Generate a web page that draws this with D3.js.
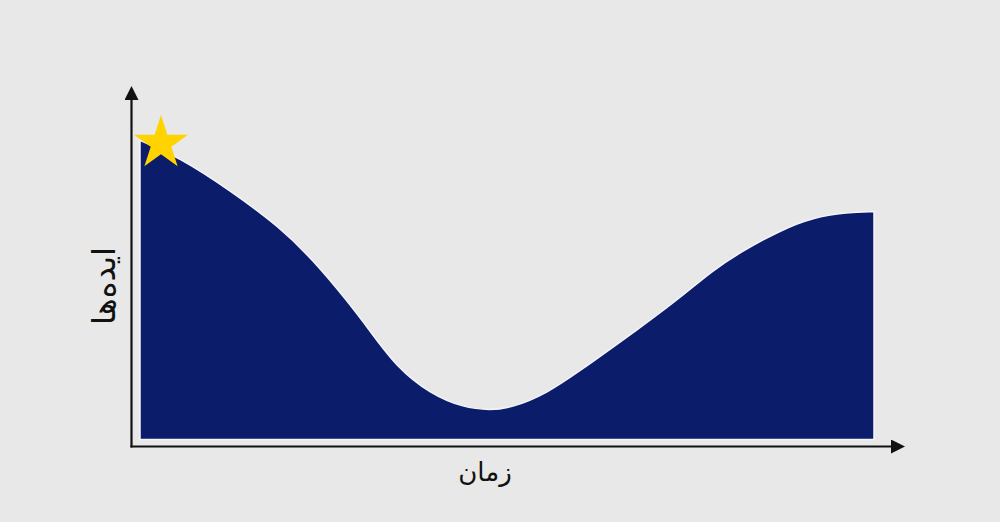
<!DOCTYPE html>
<html>
<head>
<meta charset="utf-8">
<script src="https://cdn.jsdelivr.net/npm/d3@7"></script>
<style>
  html, body { margin: 0; padding: 0; background: #e8e8e8; }
  svg { display: block; }
</style>
</head>
<body>
<svg id="chart"></svg>
<script>
// time (0-100) and ideas (0-100)
const time = [0, 5.4, 12.3, 19.1, 23.6, 28.2, 31.3, 35, 39.5, 44, 47.7, 50.8, 55.4, 60, 64.4, 69.1, 73.6, 78, 81.7, 87.2, 91.7, 96.3, 100];
const ideas = [99.7, 94, 83, 70.7, 59.7, 46.3, 36.3, 24, 15.3, 10.7, 9.7, 10.7, 15.3, 23, 30.7, 39, 47.3, 56.3, 62.3, 69.7, 74, 75.7, 76];
const xLabel = "زمان";
const yLabel = "ایده‌ها";

const width = 1000;
const height = 522;

const svg = d3.select("#chart")
  .attr("width", width)
  .attr("height", height);

const x = d3.scaleLinear([0, 100], [140, 874]);
const y = d3.scaleLinear([0, 100], [439.5, 139.5]);

const rows = time.map((t, i) => ({ t: t, v: ideas[i] }));

// arrow heads for the axes
const defs = svg.append("defs");
defs.append("marker")
  .attr("id", "arrow")
  .attr("viewBox", "0 0 10 10")
  .attr("refX", 0)
  .attr("refY", 5)
  .attr("markerWidth", 14)
  .attr("markerHeight", 14)
  .attr("markerUnits", "userSpaceOnUse")
  .attr("orient", "auto")
  .append("path")
  .attr("d", "M0,0 L10,5 L0,10 Z")
  .attr("fill", "#111");

const area = d3.area()
  .x((d) => x(d.t))
  .y0(y(0))
  .y1((d) => y(d.v))
  .curve(d3.curveBasis);

svg.append("path")
  .datum(rows)
  .attr("d", area)
  .attr("fill", "#0b1d6a")
  .attr("stroke", "#f4f4fa")
  .attr("stroke-width", 1.5);

// axes
const x0 = 131.5;
const y0 = 446.5;

svg.append("line")
  .attr("x1", x0 - 1)
  .attr("y1", y0)
  .attr("x2", 891)
  .attr("y2", y0)
  .attr("stroke", "#111")
  .attr("stroke-width", 2.2)
  .attr("marker-end", "url(#arrow)");

svg.append("line")
  .attr("x1", x0)
  .attr("y1", y0 + 1)
  .attr("x2", x0)
  .attr("y2", 100)
  .attr("stroke", "#111")
  .attr("stroke-width", 2.2)
  .attr("marker-end", "url(#arrow)");

// star on the first point
const star = d3.symbol().type(d3.symbolStar).size(900);
svg.append("path")
  .attr("d", star)
  .attr("transform", `translate(${x(time[0]) + 21}, ${y(ideas[0]) + 3})`)
  .attr("fill", "#ffd300");

svg.append("text")
  .attr("x", 485)
  .attr("y", 481)
  .attr("text-anchor", "middle")
  .attr("font-family", "DejaVu Sans")
  .attr("font-size", 26)
  .attr("fill", "#111")
  .text(xLabel);

svg.append("text")
  .attr("transform", "translate(104, 286) rotate(-90)")
  .attr("text-anchor", "middle")
  .attr("dominant-baseline", "central")
  .attr("font-family", "DejaVu Sans")
  .attr("font-size", 32)
  .attr("fill", "#111")
  .text(yLabel);
</script>
</body>
</html>
